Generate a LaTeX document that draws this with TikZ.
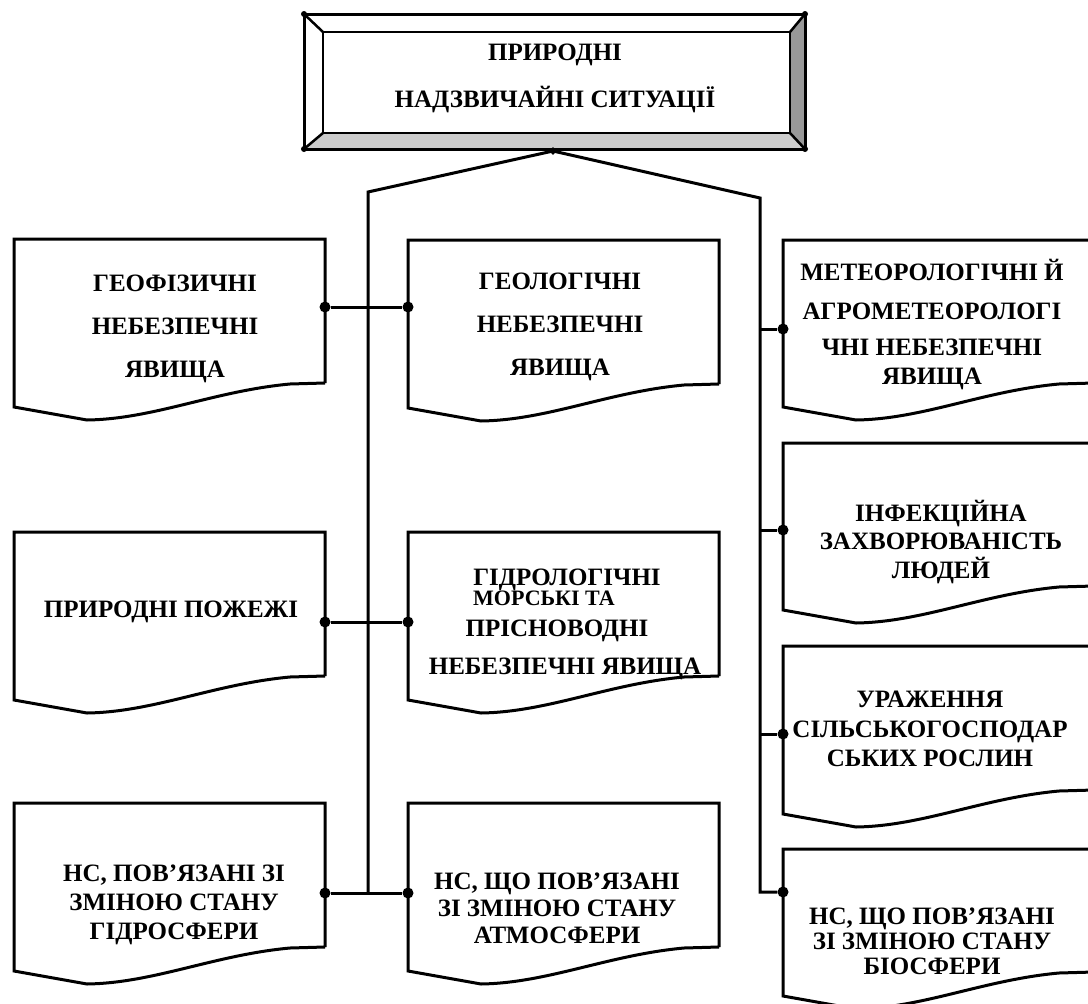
\documentclass[tikz,border=0pt]{standalone}
\usepackage{fontspec}
\setmainfont{Liberation Serif}
\usetikzlibrary{calc,shapes.geometric}

\tikzset{
  line/.style={line width=3pt},
  dot/.style={circle, fill, inner sep=0pt, minimum size=11pt},
  hubdot/.style={diamond, fill, inner sep=0pt, minimum size=8pt},
  lbl/.style={font=\bfseries\fontsize{25}{#1}\selectfont, align=center, inner sep=0pt},
  lbl/.default=29,
  pics/docbox/.style={code={
    \draw[line width=3pt] (311,#1) -- (311,0) -- (0,0) -- (0,#1+24)
      -- (73,#1+37) .. controls (140,#1+36) and (200,#1+8) .. (276,#1+1) -- (311,#1);
  }},
}

\begin{document}
\begin{tikzpicture}[x=1pt,y=-1pt]
\clip (0,0) rectangle (1088,1004);

% top frame
\fill[black!20] (304,149) -- (323,133) -- (790,133) -- (805,149) -- cycle;
\fill[black!40] (805,14) -- (790,32) -- (790,133) -- (805,149) -- cycle;
\draw[line] (304,14) rectangle (805,149);
\draw[line width=2.5pt] (323,32) rectangle (790,133);
\draw[line width=2.5pt] (304,14) -- (323,32) (805,14) -- (790,32)
  (304,149) -- (323,133) (805,149) -- (790,133);
\foreach \p in {(304,14),(805,14),(304,149),(805,149)}
  \fill \p circle (3pt);
\node[lbl=47] (root) at (555,78) {ПРИРОДНІ\\НАДЗВИЧАЙНІ СИТУАЦІЇ};
\node[hubdot] (hub) at (553,151) {};

% boxes
\pic at (14,239) {docbox=144};
\pic at (14,532) {docbox=144};
\pic at (14,803) {docbox=144};
\pic at (408,240) {docbox=144};
\pic at (408,532) {docbox=144};
\pic at (408,803) {docbox=144};
\pic at (783,240) {docbox=143};
\pic at (783,443) {docbox=143};
\pic at (783,646) {docbox=144};
\pic at (783,849) {docbox=123};

% texts
\node[lbl=43] (geofiz) at (175,329) {ГЕОФІЗИЧНІ\\НЕБЕЗПЕЧНІ\\ЯВИЩА};
\node[lbl=43] (geolog) at (560,327) {ГЕОЛОГІЧНІ\\НЕБЕЗПЕЧНІ\\ЯВИЩА};
\node[lbl] (meteo) at (932,325) {МЕТЕОРОЛОГІЧНІ Й\\[10pt]АГРОМЕТЕОРОЛОГІ\\[7pt]ЧНІ НЕБЕЗПЕЧНІ\\ЯВИЩА};
\node[lbl] (pozhezhi) at (171,612) {ПРИРОДНІ ПОЖЕЖІ};
\node[lbl] (hydro) at (567,580) {ГІДРОЛОГІЧНІ};
\node[lbl, font=\bfseries\fontsize{22}{26}\selectfont, anchor=west] (morski) at (473,598) {МОРСЬКІ ТА};
\node[lbl] (prisn) at (557,631) {ПРІСНОВОДНІ};
\node[lbl] (nebez) at (565,669) {НЕБЕЗПЕЧНІ ЯВИЩА};
\node[lbl=28.5] (infek) at (941,542) {ІНФЕКЦІЙНА\\ЗАХВОРЮВАНІСТЬ\\ЛЮДЕЙ};
\node[lbl=29.5] (urazh) at (930,729) {УРАЖЕННЯ\\СІЛЬСЬКОГОСПОДАР\\СЬКИХ РОСЛИН};
\node[lbl] (hydrosf) at (174,905) {НС, ПОВ’ЯЗАНІ ЗІ\\ЗМІНОЮ СТАНУ\\ГІДРОСФЕРИ};
\node[lbl=27] (atmosf) at (557,908) {НС, ЩО ПОВ’ЯЗАНІ\\ЗІ ЗМІНОЮ СТАНУ\\АТМОСФЕРИ};
\node[lbl=25] (biosf) at (932,941) {НС, ЩО ПОВ’ЯЗАНІ\\ЗІ ЗМІНОЮ СТАНУ\\БІОСФЕРИ};

% dots
\node[dot] (l1) at (325,307) {};
\node[dot] (m1) at (408,307) {};
\node[dot] (l2) at (325,622) {};
\node[dot] (m2) at (408,622) {};
\node[dot] (l3) at (325,893) {};
\node[dot] (m3) at (408,893) {};
\node[dot] (r1) at (783,329) {};
\node[dot] (r2) at (783,530) {};
\node[dot] (r3) at (783,734) {};
\node[dot] (r4) at (783,892) {};

% connectors
\coordinate (ltop) at (368,192);
\coordinate (lbot) at (368,893);
\coordinate (rtop) at (760,198);
\coordinate (rbot) at (760,892);
\draw[line] (hub.center) -- (ltop) -- (lbot);
\draw[line] (hub.center) -- (rtop) -- (rbot) -- (r4);
\draw[line] (l1) -- (m1);
\draw[line] (l2) -- (m2);
\draw[line] (l3) -- (m3);
\draw[line] (r1) -- (r1 -| rtop);
\draw[line] (r2) -- (r2 -| rtop);
\draw[line] (r3) -- (r3 -| rtop);
\end{tikzpicture}
\end{document}
